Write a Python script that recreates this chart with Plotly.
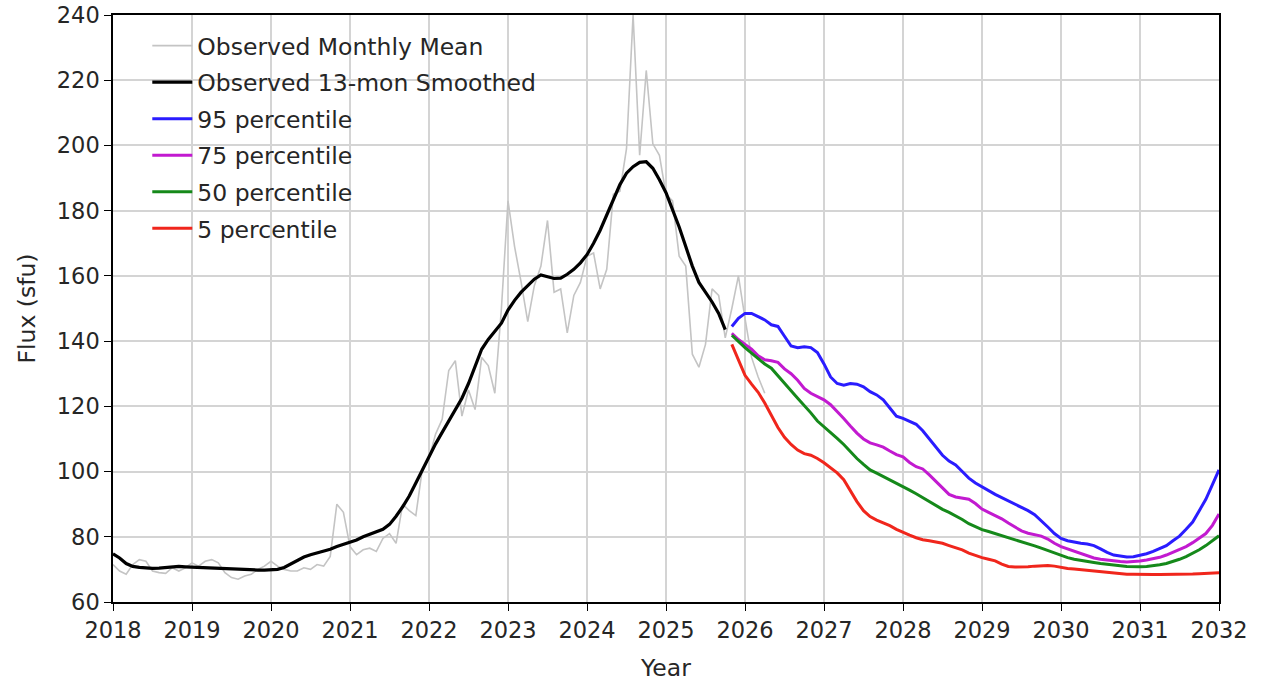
import plotly.graph_objects as go

# ---------------- data ----------------
obs_start_year = 2018          # first month: Jan 2018
observed_monthly = [
    # 2018
    71.5, 69.5, 68.5, 71.5, 73.0, 72.5, 69.5, 69.0, 68.8, 70.5, 69.5, 70.5,
    # 2019
    72.0, 71.0, 72.5, 73.0, 72.0, 69.0, 67.5, 67.0, 68.0, 68.5, 70.0, 71.0,
    # 2020
    72.5, 71.0, 70.0, 69.5, 69.5, 70.5, 70.0, 71.5, 71.0, 74.0, 90.0, 87.5,
    # 2021
    77.0, 74.5, 76.0, 76.5, 75.5, 79.5, 81.0, 78.0, 90.0, 88.0, 86.5, 101.0,
    # 2022
    104.0, 111.5, 116.0, 131.0, 134.0, 117.0, 125.0, 119.0, 135.0, 132.5, 124.0, 150.0,
    # 2023
    183.0, 169.0, 158.0, 146.0, 157.0, 163.0, 177.0, 155.0, 156.0, 142.5, 154.0, 158.0,
    # 2024
    166.0, 167.0, 156.0, 162.0, 185.0, 186.0, 199.0, 240.0, 197.0, 223.0, 200.5, 197.0,
    # 2025
    185.0, 183.0, 166.0, 163.0, 136.0, 132.0, 139.0, 156.0, 154.0, 141.0, 150.0, 160.0,
    # 2026
    147.0, 135.0, 129.0, 124.0,
]

observed_smoothed = [
    # 2018
    74.8, 73.5, 71.8, 70.9, 70.6, 70.4, 70.3, 70.4, 70.6, 70.8, 70.9, 70.8,
    # 2019
    70.7, 70.6, 70.5, 70.4, 70.3, 70.1, 70.0, 69.9, 69.9, 69.9, 69.8, 69.8,
    # 2020
    69.8, 70.0, 70.6, 71.6, 72.8, 73.8, 74.5, 75.0, 75.5, 76.2, 77.0, 77.6,
    # 2021
    78.2, 79.0, 80.0, 80.8, 81.5, 82.3, 83.8, 86.3, 89.2, 92.5, 96.5, 100.5,
    # 2022
    105.0, 108.5, 112.0, 115.5, 119.0, 122.5, 127.0, 132.5, 137.5, 140.5, 143.0, 145.5,
    # 2023
    149.5, 152.5, 155.0, 157.0, 159.0, 160.3, 159.8, 159.2, 159.3, 160.5, 162.0, 164.0,
    # 2024
    166.5, 170.0, 174.0, 178.5, 183.5, 188.0, 191.5, 193.5, 194.8, 195.0, 193.0, 189.5,
    # 2025
    185.5, 180.5, 175.0, 169.0, 163.0, 158.0, 155.0, 152.0, 148.5, 143.5,
]

pred_start_month_index = 94    # Nov 2025, counted in months from Jan 2018
p95 = [
    144.5, 147.0, 148.5, 148.5, 147.5, 146.5, 145.0, 144.5, 141.5, 138.5, 138.0, 138.3,
    138.0, 136.5, 133.0, 129.0, 127.0, 126.5, 127.0, 126.8, 126.0, 124.5, 123.5, 122.0,
    119.5, 117.0, 116.3, 115.5, 114.5, 112.5, 110.0, 107.5, 105.0, 103.2, 102.0, 100.0,
    98.0, 96.5, 95.3, 94.3, 93.0, 92.0, 91.0, 90.2, 89.0, 88.0, 86.8, 85.0,
    83.0, 81.0, 79.5, 78.8, 78.3, 78.0, 77.8, 77.3, 76.3, 75.2, 74.4, 74.0,
    73.8, 73.9, 74.3, 74.8, 75.5, 76.4, 77.3, 78.8, 80.2, 82.3, 84.5, 88.0,
    91.5, 96.0, 100.5,
]
p75 = [
    142.4, 140.5, 139.0, 137.5, 135.5, 134.3, 134.0, 133.5, 131.5, 130.0, 128.0, 125.5,
    124.0, 123.0, 122.0, 120.5, 118.5, 116.3, 114.0, 111.8, 110.0, 108.8, 108.2, 107.5,
    106.3, 105.2, 104.5, 102.8, 101.5, 100.8, 99.0, 97.0, 94.8, 93.0, 92.2, 91.8,
    91.5, 90.2, 88.5, 87.5, 86.5, 85.5, 84.2, 83.0, 81.8, 81.1, 80.6, 80.2,
    79.3, 78.0, 77.0, 76.3, 75.6, 74.8, 74.0, 73.5, 73.1, 72.8, 72.5, 72.4,
    72.3, 72.4, 72.6, 72.9, 73.3, 73.7, 74.4, 75.2, 76.0, 77.0, 78.2, 79.5,
    81.0, 83.5, 87.0,
]
p50 = [
    141.8, 139.8, 138.0, 136.3, 134.5, 133.0, 131.7, 129.5, 127.0, 124.8, 122.5, 120.3,
    118.0, 115.5, 113.8, 112.0, 110.2, 108.3, 106.0, 104.0, 102.2, 100.5, 99.5, 98.5,
    97.4, 96.3, 95.5, 94.3, 93.2, 92.0, 90.7, 89.5, 88.4, 87.5, 86.5, 85.3,
    84.0, 83.0, 82.2, 81.6, 81.0, 80.3, 79.7, 79.0, 78.4, 77.8, 77.2, 76.5,
    75.8, 75.0, 74.2, 73.6, 73.1, 72.7, 72.4, 72.1, 71.8, 71.5, 71.3, 71.1,
    70.9, 70.8, 70.8, 70.9, 71.1, 71.4, 71.8, 72.4, 73.1, 73.9, 74.9, 76.0,
    77.3, 78.7, 80.3,
]
p05 = [
    139.0, 134.0, 129.5, 126.8, 124.3, 121.0, 117.0, 113.5, 110.5, 108.3, 106.6, 105.5,
    105.0, 104.0, 102.7, 101.2, 99.6, 97.5, 94.2, 90.8, 88.0, 86.2, 85.1, 84.3,
    83.4, 82.3, 81.3, 80.5, 79.7, 79.1, 78.8, 78.5, 78.0, 77.3, 76.7, 76.0,
    75.0, 74.2, 73.6, 73.1, 72.6, 71.6, 70.9, 70.7, 70.7, 70.8, 71.0, 71.2,
    71.2, 71.0, 70.6, 70.3, 70.1, 69.9, 69.6, 69.4, 69.2, 69.0, 68.8, 68.6,
    68.5, 68.5, 68.4, 68.4, 68.4, 68.4, 68.4, 68.5, 68.5, 68.6, 68.6, 68.7,
    68.8, 68.9, 69.0,
]

series_names = ["Observed Monthly Mean", "Observed 13-mon Smoothed",
                "95 percentile", "75 percentile", "50 percentile", "5 percentile"]
x_ticks = list(range(2018, 2033))
y_ticks = list(range(60, 241, 20))


def month_axis(start_index, n):
    return [obs_start_year + (start_index + i) / 12.0 for i in range(n)]


# ---------------- figure ----------------
colors = ["#c4c4c4", "#000000", "#2a1cff", "#c21ad0", "#15891a", "#f0261c"]
widths = [1.6, 3.2, 3.0, 3.0, 3.0, 3.0]
ys = [observed_monthly, observed_smoothed, p95, p75, p50, p05]
starts = [0, 0, pred_start_month_index, pred_start_month_index,
          pred_start_month_index, pred_start_month_index]

fig = go.Figure()
for name, y, c, w, s in zip(series_names, ys, colors, widths, starts):
    fig.add_trace(go.Scatter(
        x=month_axis(s, len(y)), y=y, mode="lines", name=name,
        line=dict(color=c, width=w), legendgroup=name,
    ))

font_main = dict(family="DejaVu Sans", size=23.5, color="#262626")
font_tick = dict(family="DejaVu Sans", size=22.5, color="#262626")

axis_common = dict(
    showline=True, linecolor="#000000", linewidth=1.5, mirror=True,
    showgrid=True, gridcolor="#d4d4d4", gridwidth=1.5,
    ticks="outside", ticklen=7, tickwidth=1.3, tickcolor="#000000",
    tickfont=font_tick, zeroline=False, automargin=False,
    ticklabeloverflow="allow",
)

fig.update_layout(
    width=1263, height=687,
    margin=dict(l=113, r=44, t=15, b=85),
    paper_bgcolor="white", plot_bgcolor="white",
    font=font_main,
    xaxis=dict(range=[2018, 2032], tickvals=x_ticks,
               ticktext=[str(v) for v in x_ticks],
               title=dict(text="Year", font=font_main, standoff=18),
               **axis_common),
    yaxis=dict(range=[60, 240], tickvals=y_ticks,
               title=dict(text="Flux (sfu)", font=font_main, standoff=15),
               **axis_common),
    legend=dict(x=0.031, y=0.985, xanchor="left", yanchor="top",
                bgcolor="rgba(255,255,255,0)", borderwidth=0,
                font=font_main, tracegroupgap=3, itemwidth=40),
    showlegend=True,
)

fig.write_html(
    "out.html",
    config={"displayModeBar": False},
    post_script="document.body.style.margin='0';document.body.style.overflow='hidden';",
)
